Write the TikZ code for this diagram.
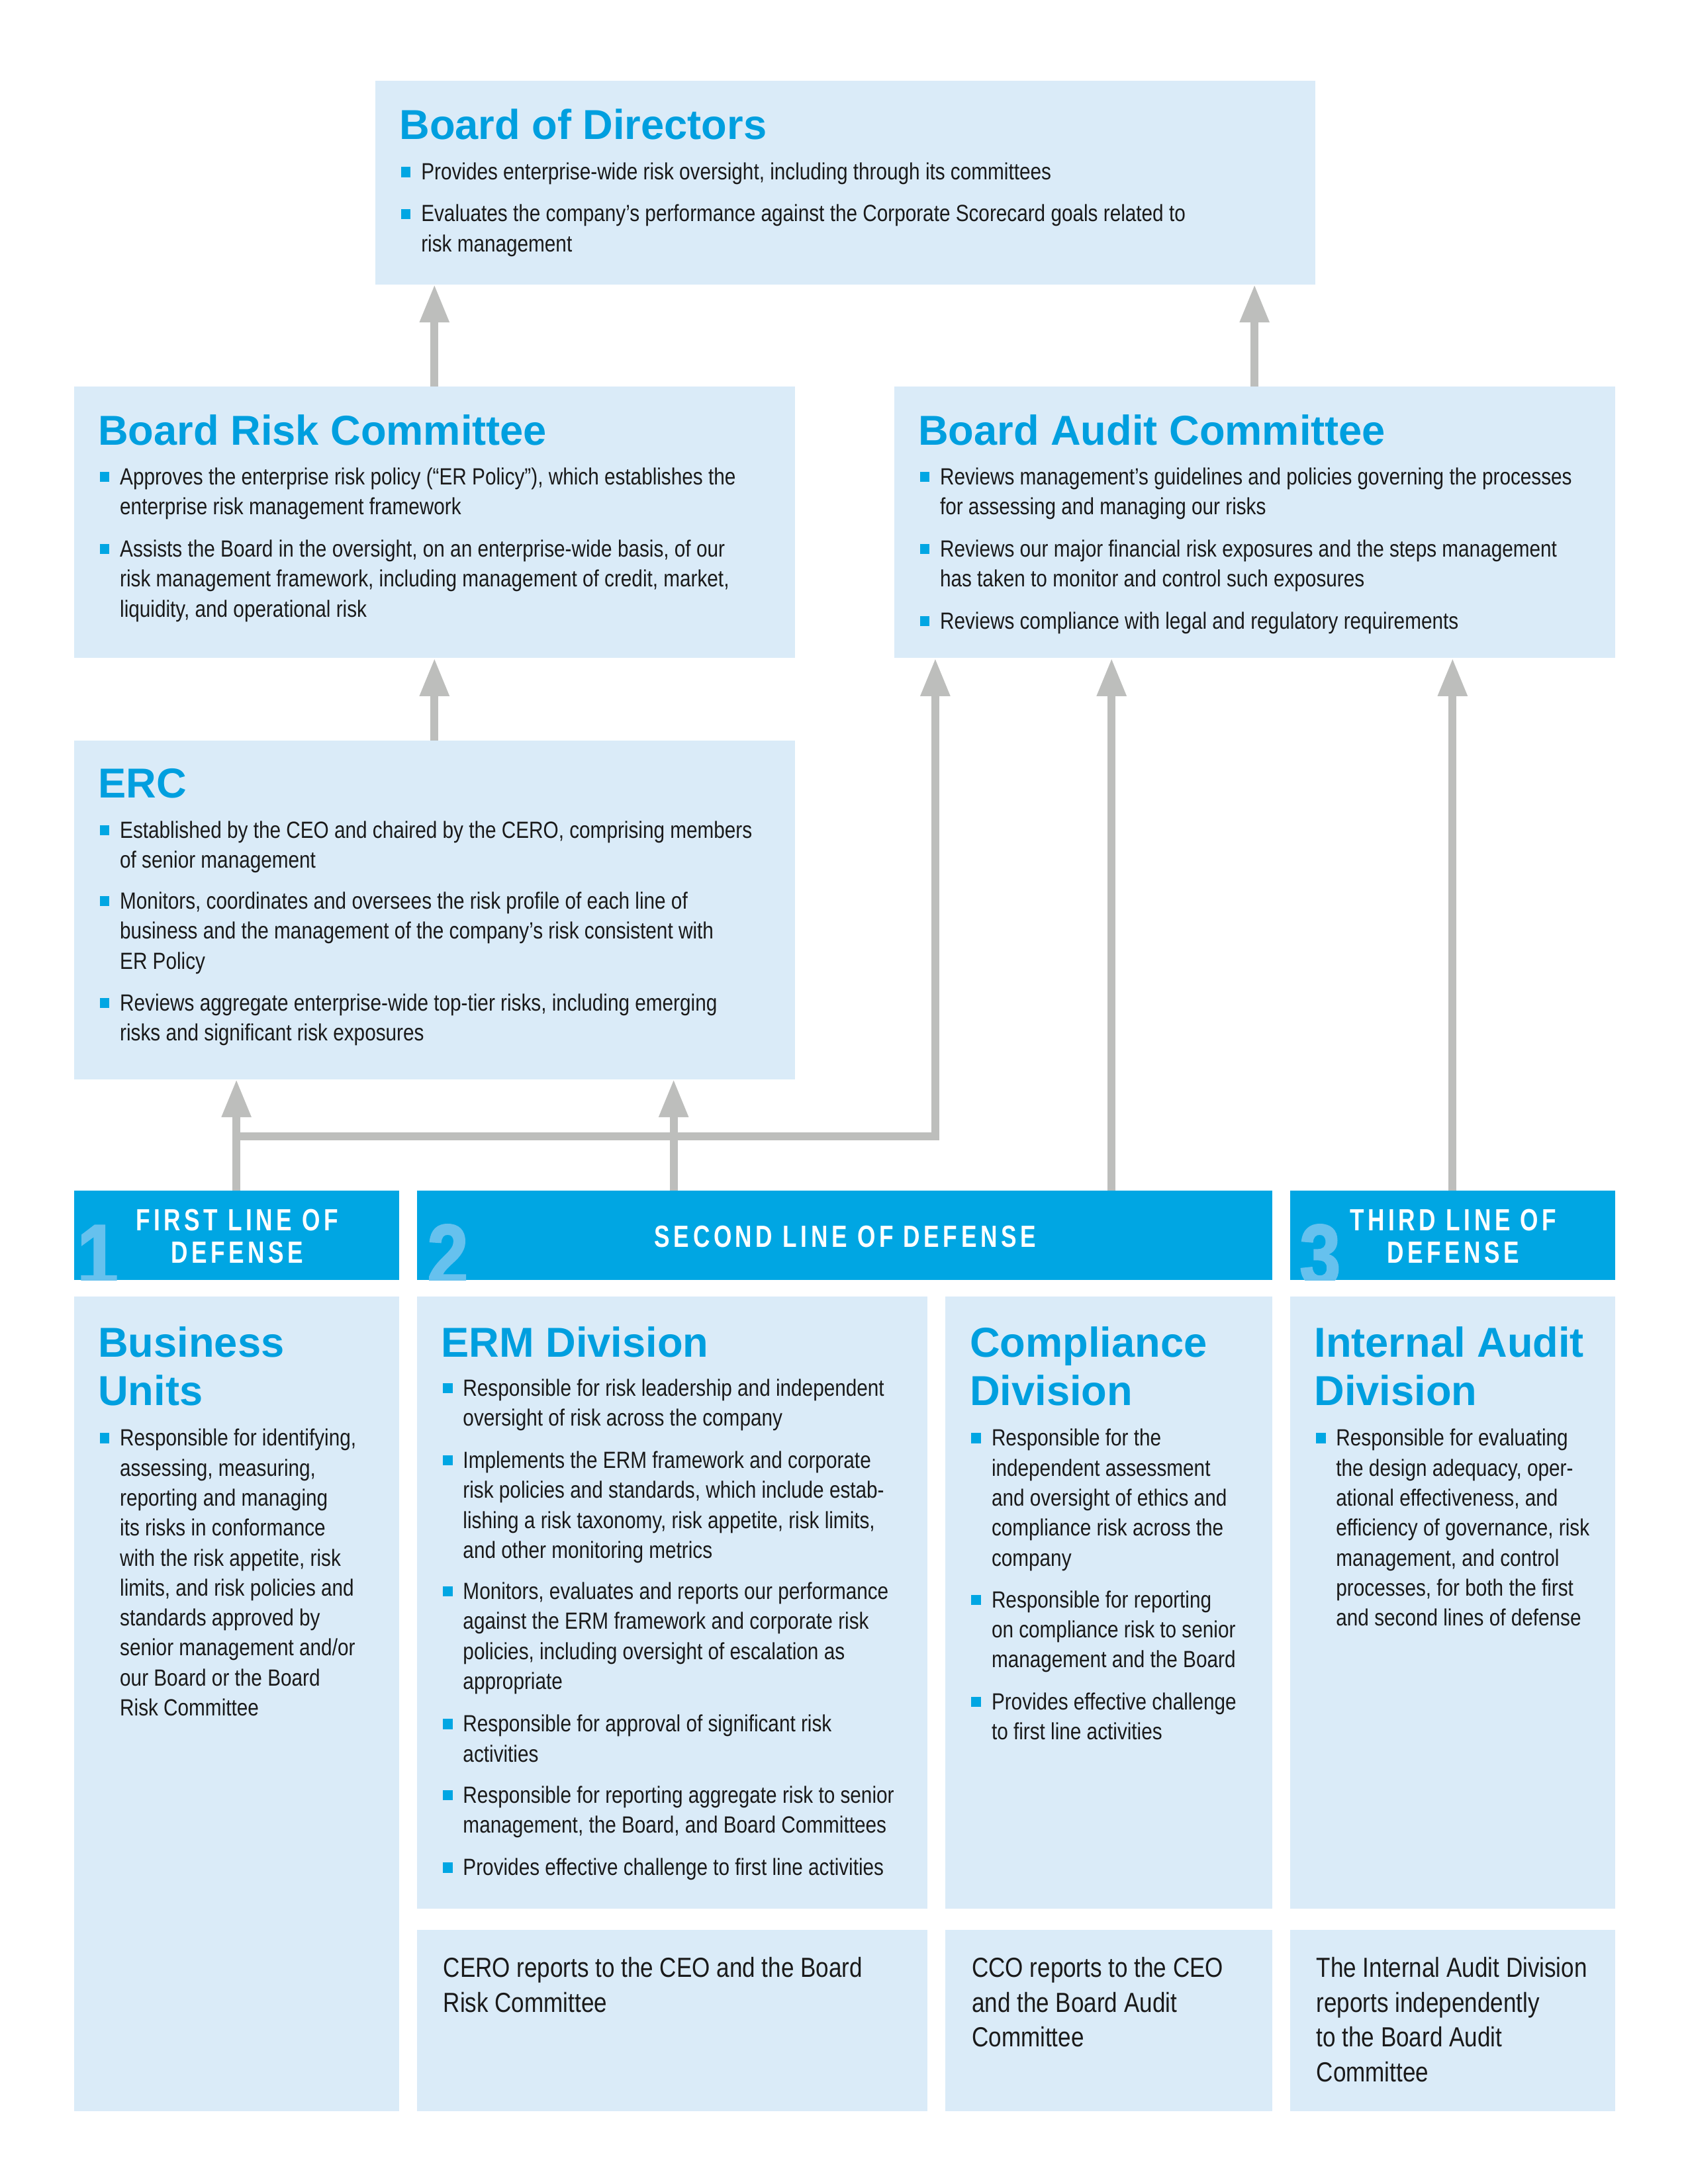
\documentclass[tikz,border=0pt]{standalone}
\usepackage{fontspec}
\setmainfont{Liberation Sans}
\newfontfamily\condfont[FakeStretch=0.84]{Liberation Sans}
\newfontfamily\headfont[FakeStretch=0.76,LetterSpace=12]{Liberation Sans}
\newfontfamily\digitfont[FakeStretch=0.85,FakeBold=2]{Liberation Sans}
\usetikzlibrary{arrows.meta}
\definecolor{boxblue}{HTML}{DAEBF8}
\definecolor{hdrblue}{HTML}{00A6E3}
\definecolor{ttlblue}{HTML}{009FDF}
\definecolor{digblue}{HTML}{66C1EE}
\definecolor{linegray}{HTML}{BDBEBC}
\definecolor{txt}{HTML}{1A1A1A}
\tikzset{
  box/.style={fill=boxblue, draw=none, inner sep=0pt, outer sep=0pt, anchor=north west},
  hdr/.style={fill=hdrblue, draw=none, inner sep=0pt, outer sep=0pt, anchor=north west},
  ttl/.style={anchor=base west, inner sep=0pt, text=ttlblue, font=\fontsize{15}{17.5}\selectfont\bfseries},
  itemtext/.style={anchor=base west, inner sep=0pt, text=txt},
  hdrtext/.style={anchor=base, inner sep=0pt, text=white},
  digit/.style={anchor=base west, inner sep=0pt, text=digblue, font=\digitfont\bfseries\fontsize{31}{31}\selectfont},
  conn/.style={draw=linegray, line width=2.9pt, line join=miter},
  arr/.style={conn, -{Triangle[length=13.6pt,width=9.9pt]}}
}
\newcommand\riskitem[4]{%
  \fill[hdrblue] (#2+18.5,#3-2) rectangle (#2+25.5,#3-9.2);
  \node[itemtext] (#1) at (#2+32.6,#3) {\parbox[t]{330pt}{\raggedright\condfont\fontsize{8.4}{10.75}\selectfont #4}};
}
\newcommand\boxnode[5]{%
  \node[box, minimum width={(#4-#2)*0.5pt}, minimum height={(#5-#3)*0.5pt}] (#1) at (#2,#3) {};
}
\newcommand\hdrnode[5]{%
  \node[hdr, minimum width={(#4-#2)*0.5pt}, minimum height={(#5-#3)*0.5pt}] (#1) at (#2,#3) {};
}
\newcommand\hdrfont{\headfont\bfseries\fontsize{11}{11.7}\selectfont}
\newcommand\notefont{\condfont\fontsize{9.9}{12.5}\selectfont}
\begin{document}
\begin{tikzpicture}[x=0.5pt,y=-0.5pt]
\fill[white] (0,0) rectangle (1210.3,1566.3);
\useasboundingbox (0,0) rectangle (1210.3,1566.3);

% boxes
\boxnode{bod}{269}{58}{943}{204}
\boxnode{brc}{53}{277}{570}{472}
\boxnode{bac}{641}{277}{1158}{472}
\boxnode{erc}{53}{531}{570}{774}
\hdrnode{h1}{53}{854}{286}{918}
\hdrnode{h2}{299}{854}{912}{918}
\hdrnode{h3}{925}{854}{1158}{918}
\boxnode{bu}{53}{930}{286}{1514}
\boxnode{erm}{299}{930}{665}{1369}
\boxnode{comp}{678}{930}{912}{1369}
\boxnode{ia}{925}{930}{1158}{1369}
\boxnode{ermb}{299}{1384}{665}{1514}
\boxnode{compb}{678}{1384}{912}{1514}
\boxnode{iab}{925}{1384}{1158}{1514}

% connectors
\draw[arr] (brc.north) -- (brc.north |- bod.south);
\draw[arr] (bac.north) -- (bac.north |- bod.south);
\draw[arr] (erc.north) -- (erc.north |- brc.south);
\draw[arr] ([yshift=-20.5pt]erc.south -| h1.north) -| ([xshift=14.8pt]bac.south west);
\draw[arr] (h1.north) -- (h1.north |- erc.south);
\draw[arr] ([xshift=92pt]h2.north west) -- ([xshift=92pt]h2.north west |- erc.south);
\draw[arr] ([xshift=249pt]h2.north west) -- ([xshift=249pt]h2.north west |- bac.south);
\draw[arr] (h3.north) -- (h3.north |- bac.south);

% header texts and digits
\begin{scope}
\clip (h1.north west) rectangle (h1.south east);
\node[digit] (d1) at (55,921.5) {1};
\end{scope}
\begin{scope}
\clip (h2.north west) rectangle (h2.south east);
\node[digit] (d2) at (306,921.5) {2};
\end{scope}
\begin{scope}
\clip (h3.north west) rectangle (h3.south east);
\node[digit] (d3) at (931.5,921.5) {3};
\end{scope}
\node[hdrtext] (t1) at (170,882.5) {\parbox[t]{110pt}{\centering\hdrfont FIRST LINE OF\\DEFENSE}};
\node[hdrtext] (t2) at (606,894.5) {\parbox[t]{200pt}{\centering\hdrfont SECOND LINE OF DEFENSE}};
\node[hdrtext] (t3) at (1042,882.5) {\parbox[t]{110pt}{\centering\hdrfont THIRD LINE OF\\DEFENSE}};

% Board of Directors
\node[ttl] (bodt) at (286,100) {Board of Directors};
\riskitem{bod1}{269}{129}{Provides enterprise-wide risk oversight, including through its committees}
\riskitem{bod2}{269}{159}{Evaluates the company’s performance against the Corporate Scorecard goals related to\\risk management}

% Board Risk Committee
\node[ttl] (brct) at (70,319) {Board Risk Committee};
\riskitem{brc1}{53}{347.5}{Approves the enterprise risk policy (“ER Policy”), which establishes the\\enterprise risk management framework}
\riskitem{brc2}{53}{399.5}{Assists the Board in the oversight, on an enterprise-wide basis, of our\\risk management framework, including management of credit, market,\\liquidity, and operational risk}

% Board Audit Committee
\node[ttl] (bact) at (658,319) {Board Audit Committee};
\riskitem{bac1}{641}{347.5}{Reviews management’s guidelines and policies governing the processes\\for assessing and managing our risks}
\riskitem{bac2}{641}{399.5}{Reviews our major financial risk exposures and the steps management\\has taken to monitor and control such exposures}
\riskitem{bac3}{641}{451}{Reviews compliance with legal and regulatory requirements}

% ERC
\node[ttl] (erct) at (70,572) {ERC};
\riskitem{erc1}{53}{601}{Established by the CEO and chaired by the CERO, comprising members\\of senior management}
\riskitem{erc2}{53}{652}{Monitors, coordinates and oversees the risk profile of each line of\\business and the management of the company’s risk consistent with\\ER Policy}
\riskitem{erc3}{53}{725}{Reviews aggregate enterprise-wide top-tier risks, including emerging\\risks and significant risk exposures}

% Business Units
\node[ttl] (but) at (70,973) {\parbox[t]{100pt}{Business\\Units}};
\riskitem{bu1}{53}{1037}{Responsible for identifying,\\assessing, measuring,\\reporting and managing\\its risks in conformance\\with the risk appetite, risk\\limits, and risk policies and\\standards approved by\\senior management and/or\\our Board or the Board\\Risk Committee}

% ERM Division
\node[ttl] (ermt) at (316,973) {ERM Division};
\riskitem{erm1}{299}{1001}{Responsible for risk leadership and independent\\oversight of risk across the company}
\riskitem{erm2}{299}{1053}{Implements the ERM framework and corporate\\risk policies and standards, which include estab-\\lishing a risk taxonomy, risk appetite, risk limits,\\and other monitoring metrics}
\riskitem{erm3}{299}{1147}{Monitors, evaluates and reports our performance\\against the ERM framework and corporate risk\\policies, including oversight of escalation as\\appropriate}
\riskitem{erm4}{299}{1242}{Responsible for approval of significant risk\\activities}
\riskitem{erm5}{299}{1293}{Responsible for reporting aggregate risk to senior\\management, the Board, and Board Committees}
\riskitem{erm6}{299}{1345}{Provides effective challenge to first line activities}

% Compliance Division
\node[ttl] (compt) at (695,973) {\parbox[t]{120pt}{Compliance\\Division}};
\riskitem{comp1}{678}{1037}{Responsible for the\\independent assessment\\and oversight of ethics and\\compliance risk across the\\company}
\riskitem{comp2}{678}{1153}{Responsible for reporting\\on compliance risk to senior\\management and the Board}
\riskitem{comp3}{678}{1226}{Provides effective challenge\\to first line activities}

% Internal Audit Division
\node[ttl] (iat) at (942,973) {\parbox[t]{120pt}{Internal Audit\\Division}};
\riskitem{ia1}{925}{1037}{Responsible for evaluating\\the design adequacy, oper-\\ational effectiveness, and\\efficiency of governance, risk\\management, and control\\processes, for both the first\\and second lines of defense}

% bottom notes
\node[itemtext] (ermn) at (317.5,1418) {\parbox[t]{170pt}{\raggedright\notefont CERO reports to the CEO and the Board\\Risk Committee}};
\node[itemtext] (compn) at (696.5,1418) {\parbox[t]{110pt}{\raggedright\notefont CCO reports to the CEO\\and the Board Audit\\Committee}};
\node[itemtext] (ian) at (943.5,1418) {\parbox[t]{110pt}{\raggedright\notefont The Internal Audit Division\\reports independently\\to the Board Audit\\Committee}};
\end{tikzpicture}
\end{document}
